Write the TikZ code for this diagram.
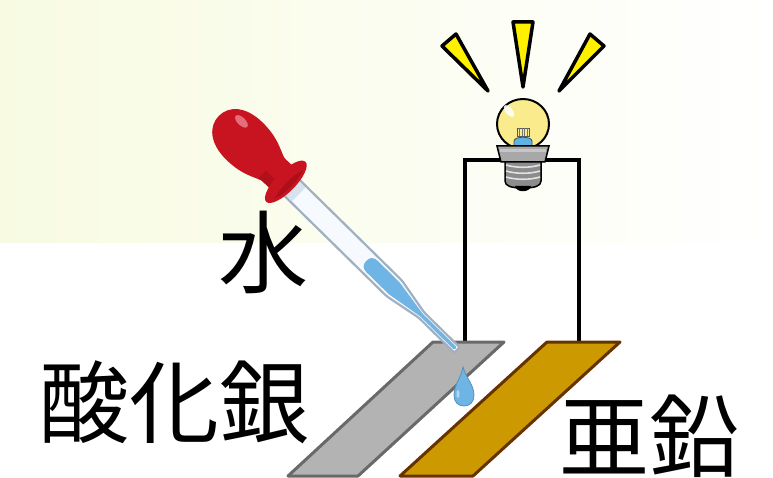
\documentclass[tikz,border=0pt]{standalone}
\usepackage{fontspec}
\newfontfamily\jpfont{Noto Sans CJK JP}
\definecolor{panel}{RGB}{248,251,226}
\definecolor{rayfill}{RGB}{255,240,0}
\definecolor{glass}{RGB}{250,236,140}
\definecolor{collargrey}{RGB}{168,168,168}
\definecolor{threadgrey}{RGB}{140,140,140}
\definecolor{bulbblue}{RGB}{95,178,228}
\definecolor{rubber}{RGB}{200,20,32}
\definecolor{rubberdark}{RGB}{150,10,20}
\definecolor{rubberlight}{RGB}{232,120,132}
\definecolor{tubeedge}{RGB}{160,176,192}
\definecolor{tubefill}{RGB}{246,249,253}
\definecolor{tubecap}{RGB}{214,226,238}
\definecolor{water}{RGB}{110,180,228}
\definecolor{silverfill}{RGB}{179,179,179}
\definecolor{silveredge}{RGB}{105,105,105}
\definecolor{zincfill}{RGB}{204,153,0}
\definecolor{zincedge}{RGB}{102,51,0}
\begin{document}
\begin{tikzpicture}[x=1pt,y=-1pt,
  wire/.style={line width=4.5pt, draw=black, line join=miter},
  ray/.style={fill=rayfill, draw=black, line width=3.5pt, line join=round},
  plate/.style={line width=3pt, line join=round},
  kanji/.style={inner sep=0pt, anchor=base west, font=\jpfont\fontsize{90}{90}\selectfont}
]
\useasboundingbox (0,0) rectangle (773,478);

% pale backdrop in the upper part
\fill[left color=panel, right color=white] (0,0) rectangle (773,243);

% circuit wire from the two plates up to the lamp
\coordinate (wireL) at (465,343);
\coordinate (wireTL) at (465,160);
\coordinate (wireTR) at (579,160);
\coordinate (wireR) at (579,343);
\draw[wire] (wireL) -- (wireTL) -- (wireTR) -- (wireR);

% lamp: screw base
\filldraw[fill=threadgrey, draw=black, line width=1.5pt]
  (505,160) -- (541,160) -- (541,181) .. controls (541,186) and (535,188) .. (523,188)
  .. controls (511,188) and (505,186) .. (505,181) -- cycle;
\foreach \yy in {165,171,177}
  \draw[line width=1.6pt, white!75!threadgrey] (506,\yy) .. controls (516,\yy+3) and (530,\yy+3) .. (540,\yy);
\fill[black] (515,186) .. controls (516,193) and (530,193) .. (531,186) -- cycle;
% lamp: glass
\filldraw[fill=glass, draw=black, line width=2pt] (523,124) ellipse [x radius=26, y radius=25];
\fill[white, opacity=0.85, rotate around={40:(509,111)}] (509,111) ellipse [x radius=3.5, y radius=7];
% lamp: filament
\draw[line width=0.8pt, black!65] (517,128) rectangle (529,136);
\foreach \xx in {519.5,522,524.5,527}
  \draw[line width=0.6pt, black!55] (\xx,128) -- (\xx,136);
\filldraw[fill=bulbblue, draw=black!70, line width=0.8pt]
  (514,147) -- (514,141) .. controls (514,136) and (532,136) .. (532,141) -- (532,147);
% lamp: collar
\filldraw[fill=collargrey, draw=black, line width=1.5pt] (497,146) -- (549,146) -- (545,162) -- (501,162) -- cycle;
\fill[white, opacity=0.35] (500,149) rectangle (546,152);

% light rays
\filldraw[ray] (442,46) -- (456,34) -- (488,91) -- cycle;
\filldraw[ray] (513,22) -- (533,22) -- (523,87) -- cycle;
\filldraw[ray] (590,34) -- (604,46) -- (559,91) -- cycle;

% silver oxide plate and zinc plate
\filldraw[plate, fill=silverfill, draw=silveredge] (433,342) -- (504,342) -- (358,476) -- (288,476) -- cycle;
\filldraw[plate, fill=zincfill, draw=zincedge] (547,342) -- (620,342) -- (473,476) -- (400,476) -- cycle;

% falling drop
\filldraw[fill=water, draw=water!80!black, line width=0.8pt]
  (463,367) .. controls (461,378) and (454,385) .. (454,395)
  .. controls (454,402) and (458,406) .. (464,406)
  .. controls (470,406) and (474,402) .. (474,395)
  .. controls (474,385) and (466,378) .. (463,367) -- cycle;
\fill[white, opacity=0.5] (458,394) ellipse [x radius=1.5, y radius=4];

% dropper, drawn along its own axis from the tip
\begin{scope}[shift={(457,350)}, rotate=135.5]
  \filldraw[fill=tubefill, draw=tubeedge, line width=2.2pt, rounded corners=2pt]
    (0,-3.8) -- (50,-3.8) -- (88,-11) -- (236,-11) -- (236,11) -- (88,11) -- (50,3.8) -- (0,3.8) -- cycle;
  \fill[tubecap] (222,-9.5) rectangle (236,9.5);
  \fill[water, rounded corners=1.5pt]
    (2,-1.8) -- (50,-1.8) -- (88,-8) -- (118,-8)
    .. controls (124,-8) and (127,-5) .. (127,0)
    .. controls (127,5) and (124,8) .. (118,8) -- (88,8) -- (50,1.8) -- (2,1.8) -- cycle;
  % rubber bulb
  \fill[rubber] (236,-16) rectangle (262,16);
  \fill[rubber]
    (250,-14) .. controls (264,-16) and (272,-26) .. (298,-26)
    .. controls (322,-26) and (334,-14) .. (334,0)
    .. controls (334,14) and (322,26) .. (298,26)
    .. controls (272,26) and (264,16) .. (250,14) -- cycle;
  \fill[rubberdark, opacity=0.45] (244,-16) rectangle (262,-6);
  \fill[rubberlight, opacity=0.9] (314,12) ellipse [x radius=8, y radius=4];
  \fill[rubber] (240,0) ellipse [x radius=10, y radius=28];
  \fill[rubberdark, opacity=0.5] (236,-20) .. controls (240,-10) and (240,10) .. (236,20)
    .. controls (232,10) and (232,-10) .. (236,-20) -- cycle;
\end{scope}

% labels
\node[kanji] (waterlabel) at (218,286) {水};
\node[kanji] (silverlabel) at (39,436) {酸化銀};
\node[kanji] (zinclabel) at (559,470) {亜鉛};
\end{tikzpicture}
\end{document}
